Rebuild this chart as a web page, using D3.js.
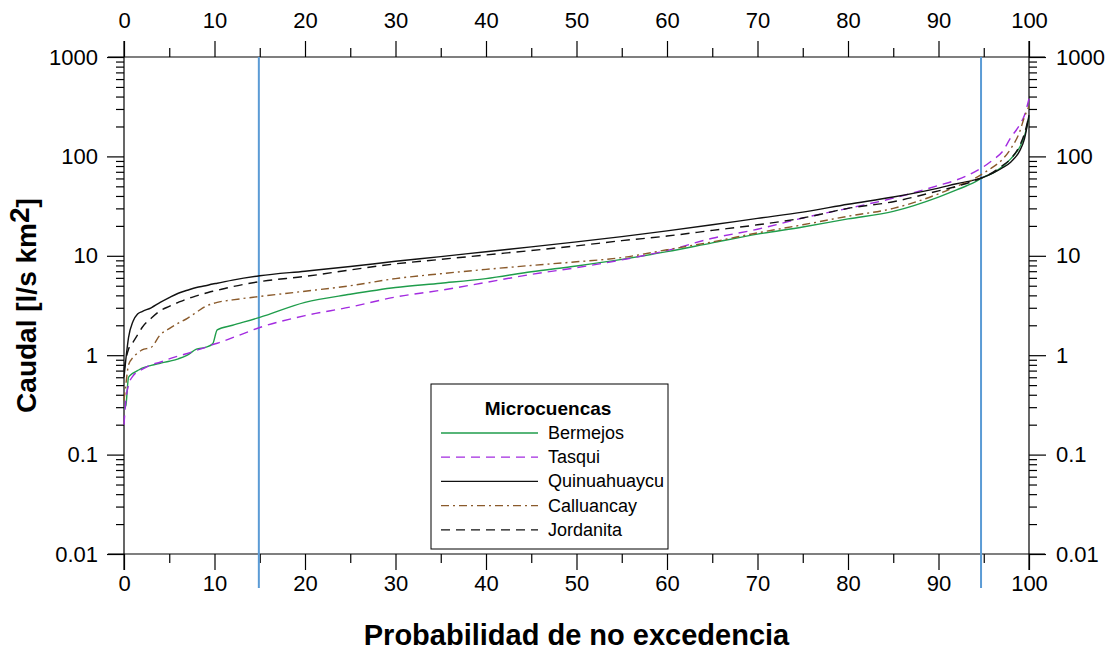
<!DOCTYPE html>
<html>
<head>
<meta charset="utf-8">
<script src="https://cdn.jsdelivr.net/npm/d3@7"></script>
<style>
  body { margin: 0; background: #fff; }
  svg { font-family: Arial, "Liberation Sans", sans-serif; }
</style>
</head>
<body>
<div id="chart"></div>
<script>
const F_WIDTH = 1112;
const F_HEIGHT = 650;
const MARGINS = {left: 124, right: 83, top: 57, bottom: 96};

const VIS_WIDTH = F_WIDTH - MARGINS.left - MARGINS.right;
const VIS_HEIGHT = F_HEIGHT - MARGINS.top - MARGINS.bottom;

// probabilidad de no excedencia (%)
const prob = [0, 0.2, 0.5, 1, 1.5, 2, 3, 4, 5, 6, 7, 8, 9, 9.8, 10.3, 12, 15, 20, 25, 30,
              35, 40, 45, 50, 55, 60, 65, 70, 75, 80, 85, 90, 92, 94, 95, 96, 97, 98, 99, 99.5, 100];

// caudal especifico (l/s km2)
const bermejos = [0.29, 0.31, 0.6, 0.66, 0.7, 0.74, 0.79, 0.83, 0.87, 0.92, 1.0, 1.15, 1.2, 1.3, 1.8, 2.0, 2.4, 3.4, 4.1, 4.8,
                  5.3, 5.9, 6.9, 7.9, 9.2, 11.0, 13.5, 16.5, 19.5, 23.5, 28, 39, 46, 55, 62, 68, 78, 95, 125, 160, 250];
const tasqui = [0.2, 0.35, 0.5, 0.62, 0.68, 0.72, 0.8, 0.85, 0.92, 0.98, 1.04, 1.12, 1.2, 1.28, 1.32, 1.5, 1.9, 2.5, 3.05, 3.85,
                4.5, 5.4, 6.5, 7.6, 9.1, 11.3, 15, 18.5, 24, 30, 38, 51, 58, 70, 79, 92, 110, 155, 210, 260, 380];
const quinuahuaycu = [0.6, 0.9, 1.5, 2.2, 2.6, 2.75, 3.0, 3.4, 3.8, 4.2, 4.5, 4.8, 5.0, 5.2, 5.3, 5.7, 6.3, 7.0, 7.8, 8.8,
                      9.8, 11.0, 12.3, 13.8, 15.6, 17.8, 20.5, 23.8, 27.5, 33, 39, 48, 53, 58, 62, 68, 76, 88, 115, 150, 260];
const calluancay = [0.35, 0.5, 0.8, 0.95, 1.05, 1.13, 1.2, 1.6, 1.85, 2.1, 2.35, 2.7, 3.1, 3.3, 3.4, 3.6, 3.9, 4.4, 5.0, 5.9,
                    6.6, 7.3, 8.0, 8.7, 9.6, 11.5, 13.8, 17, 20.5, 25, 30, 42, 50, 60, 68, 78, 92, 120, 180, 250, 320];
const jordanita = [0.7, 0.9, 1.15, 1.35, 1.6, 1.9, 2.35, 2.8, 3.1, 3.4, 3.7, 3.95, 4.2, 4.4, 4.5, 4.9, 5.5, 6.2, 7.2, 8.3,
                   9.2, 10.2, 11.3, 12.6, 14.2, 15.8, 18, 20.5, 24, 30, 35, 45, 50, 57, 62, 69, 80, 95, 130, 170, 260];

const seriesNames = ["Bermejos", "Tasqui", "Quinuahuaycu", "Calluancay", "Jordanita"];
const seriesValues = [bermejos, tasqui, quinuahuaycu, calluancay, jordanita];
const seriesColors = ["#1f9d4b", "#a32be0", "#111111", "#8a5a2b", "#111111"];
const seriesDash = ["", "9,6", "", "8,4,2,4", "9,6"];

const xTicks = [0, 10, 20, 30, 40, 50, 60, 70, 80, 90, 100];
const yTicks = [0.01, 0.1, 1, 10, 100, 1000];
const yTickLabels = ["0.01", "0.1", "1", "10", "100", "1000"];
const refLines = [14.9, 94.7];

const FRAME = d3.select("#chart")
  .append("svg")
    .attr("width", F_WIDTH)
    .attr("height", F_HEIGHT);

const X_SCALE = d3.scaleLinear().domain([0, 100]).range([0, VIS_WIDTH]);
const Y_SCALE = d3.scaleLog().domain([0.01, 1000]).range([VIS_HEIGHT, 0]);

const G = FRAME.append("g")
  .attr("transform", "translate(" + MARGINS.left + "," + MARGINS.top + ")");

// minor ticks for log axis
const yMinor = [];
yTicks.slice(0, -1).forEach((d) => {
  for (let k = 2; k <= 9; k++) yMinor.push(d * k);
});
const xMinor = d3.range(5, 100, 10);

function styleAxis(g) {
  g.select(".domain").remove();
  g.selectAll("line").attr("stroke", "#000").attr("stroke-width", 1.2);
  g.selectAll("text").attr("font-size", 22).attr("fill", "#000");
}

// bottom axis
G.append("g").attr("transform", "translate(0," + VIS_HEIGHT + ")")
  .call(d3.axisBottom(X_SCALE).tickValues(xTicks).tickSize(16).tickPadding(5)).call(styleAxis);
G.append("g").attr("transform", "translate(0," + VIS_HEIGHT + ")")
  .call(d3.axisBottom(X_SCALE).tickValues(xMinor).tickSize(9).tickFormat("")).call(styleAxis);
// top axis
G.append("g")
  .call(d3.axisTop(X_SCALE).tickValues(xTicks).tickSize(16).tickPadding(13)).call(styleAxis);
G.append("g")
  .call(d3.axisTop(X_SCALE).tickValues(xMinor).tickSize(9).tickFormat("")).call(styleAxis);
// left axis
G.append("g")
  .call(d3.axisLeft(Y_SCALE).tickValues(yTicks).tickSize(17).tickPadding(9)
    .tickFormat((d, i) => yTickLabels[i])).call(styleAxis);
G.append("g")
  .call(d3.axisLeft(Y_SCALE).tickValues(yMinor).tickSize(8).tickFormat("")).call(styleAxis);
// right axis
G.append("g").attr("transform", "translate(" + VIS_WIDTH + ",0)")
  .call(d3.axisRight(Y_SCALE).tickValues(yTicks).tickSize(17).tickPadding(10)
    .tickFormat((d, i) => yTickLabels[i])).call(styleAxis);
G.append("g").attr("transform", "translate(" + VIS_WIDTH + ",0)")
  .call(d3.axisRight(Y_SCALE).tickValues(yMinor).tickSize(8).tickFormat("")).call(styleAxis);

// axis lines, running past the corners
const EXT = 16;
[[-EXT, 0, VIS_WIDTH + EXT, 0],
 [-EXT, VIS_HEIGHT, VIS_WIDTH + EXT, VIS_HEIGHT],
 [0, -EXT, 0, VIS_HEIGHT + EXT],
 [VIS_WIDTH, -EXT, VIS_WIDTH, VIS_HEIGHT + EXT]].forEach((l) => {
  G.append("line")
    .attr("x1", l[0]).attr("y1", l[1]).attr("x2", l[2]).attr("y2", l[3])
    .attr("stroke", "#000").attr("stroke-width", 1.2);
});

// reference lines
G.selectAll(".ref")
  .data(refLines)
  .enter()
  .append("line")
    .attr("x1", (d) => X_SCALE(d)).attr("x2", (d) => X_SCALE(d))
    .attr("y1", 0).attr("y2", VIS_HEIGHT + 34)
    .attr("stroke", "#5b9bd5").attr("stroke-width", 2);

// curves
const line = d3.line()
  .x((d) => X_SCALE(d[0]))
  .y((d) => Y_SCALE(d[1]))
  .curve(d3.curveMonotoneX);

seriesValues.forEach((vals, i) => {
  G.append("path")
    .datum(prob.map((p, j) => [p, vals[j]]))
    .attr("d", line)
    .attr("fill", "none")
    .attr("stroke", seriesColors[i])
    .attr("stroke-width", 1.4)
    .attr("stroke-dasharray", seriesDash[i]);
});

// axis titles
FRAME.append("text")
  .attr("x", MARGINS.left + VIS_WIDTH / 2)
  .attr("y", 645)
  .attr("text-anchor", "middle")
  .attr("font-size", 29)
  .attr("font-weight", "bold")
  .text("Probabilidad de no excedencia");

const yTitle = FRAME.append("text")
  .attr("transform", "translate(36," + (MARGINS.top + VIS_HEIGHT / 2) + ") rotate(-90)")
  .attr("text-anchor", "middle")
  .attr("font-size", 28)
  .attr("font-weight", "bold");
yTitle.append("tspan").text("Caudal [l/s km");
yTitle.append("tspan").attr("dy", -7).text("2");
yTitle.append("tspan").attr("dy", 7).text("]");

// legend
const LEG = {x: 431, y: 384, w: 237, h: 165};
const legend = FRAME.append("g").attr("transform", "translate(" + LEG.x + "," + LEG.y + ")");
legend.append("rect")
  .attr("width", LEG.w).attr("height", LEG.h)
  .attr("fill", "#fff").attr("stroke", "#000").attr("stroke-width", 1);
legend.append("text")
  .attr("x", 117).attr("y", 31)
  .attr("text-anchor", "middle")
  .attr("font-size", 19).attr("font-weight", "bold")
  .text("Microcuencas");
seriesNames.forEach((name, i) => {
  const yy = 49 + i * 24.2;
  legend.append("line")
    .attr("x1", 10).attr("x2", 107).attr("y1", yy).attr("y2", yy)
    .attr("stroke", seriesColors[i]).attr("stroke-width", 1.3)
    .attr("stroke-dasharray", seriesDash[i]);
  legend.append("text")
    .attr("x", 117).attr("y", yy + 6)
    .attr("font-size", 18)
    .text(name);
});
</script>
</body>
</html>
